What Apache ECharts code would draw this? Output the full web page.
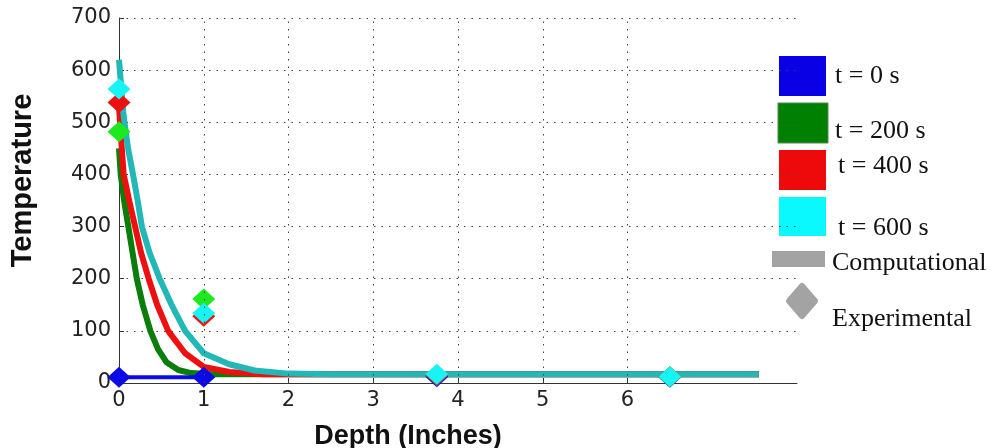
<!DOCTYPE html>
<html>
<head>
<meta charset="utf-8">
<script src="https://cdn.jsdelivr.net/npm/echarts@6/dist/echarts.min.js"></script>
<style>
  html, body { margin: 0; padding: 0; background: #fff; }
  #main { width: 994px; height: 448px; }
</style>
</head>
<body>
<div id="main"></div>
<script>
// computational curves, [depth in, temperature]
var comp0 = [[0, 11], [1, 11]];
var comp200 = [[0, 450], [0.02, 400], [0.06, 350], [0.11, 300], [0.16, 250], [0.21, 200], [0.28, 150],
  [0.37, 100], [0.46, 65], [0.56, 40], [0.7, 25], [0.85, 19], [1.1, 17], [7.55, 17]];
var comp400 = [[0, 530], [0.02, 480], [0.055, 400], [0.12, 350], [0.19, 300], [0.26, 250], [0.35, 200],
  [0.45, 150], [0.58, 100], [0.78, 57], [1.0, 31], [1.3, 21], [1.7, 17], [7.55, 17]];
var comp600 = [[0, 620], [0.02, 580], [0.05, 520], [0.08, 480], [0.11, 447], [0.165, 400], [0.22, 350],
  [0.27, 300], [0.36, 250], [0.48, 200], [0.62, 150], [0.78, 100], [1.0, 57], [1.3, 36], [1.6, 24],
  [2.0, 18], [2.5, 17], [7.55, 17]];

// experimental points
var exp0 = [[0, 11], [1, 11], [3.75, 12], [6.5, 11]];
var exp200 = [[0, 482], [1, 161], [3.75, 15], [6.5, 12]];
var exp400 = [[0, 538], [1, 128], [3.75, 15], [6.5, 12]];
var exp600 = [[0, 564], [1, 134], [3.75, 17], [6.5, 12]];

var xTicks = [0, 1, 2, 3, 4, 5, 6];
var gridX = [1, 2, 3, 4, 5, 6];
var legendNames = ['t = 0 s', 't = 200 s', 't = 400 s', 't = 600 s', 'Computational', 'Experimental'];

var chart = echarts.init(document.getElementById('main'));

function curve(name, data, color, width) {
  return {
    name: name, type: 'line', data: data, showSymbol: false,
    lineStyle: { color: color, width: width, join: 'round' }, z: 2
  };
}
function points(name, data, color) {
  return {
    name: name, type: 'scatter', data: data, symbol: 'diamond', symbolSize: [23, 21],
    itemStyle: { color: color, opacity: 1 }, z: 4
  };
}

var dotted = { type: [1.5, 6], color: '#444', width: 1 };
var legFont = '26px "Liberation Serif"';

chart.setOption({
  animation: false,
  grid: { left: 119, right: 197, top: 18, bottom: 65, outerBoundsMode: 'none', containLabel: false },
  xAxis: {
    type: 'value', min: 0, max: 8, interval: 1,
    name: 'Depth (Inches)', nameLocation: 'middle', nameGap: 40,
    nameTextStyle: { fontFamily: 'Arial', fontWeight: 'bold', fontSize: 27, color: '#111', padding: [0, 100, 0, 0] },
    axisLine: { lineStyle: { color: '#333', width: 1 } },
    axisTick: { inside: true, length: 5, customValues: xTicks, lineStyle: { color: '#333' } },
    axisLabel: { customValues: xTicks, fontFamily: 'DejaVu Sans', fontSize: 21, color: '#222', margin: 7 },
    splitLine: { show: false }
  },
  yAxis: {
    type: 'value', min: 0, max: 700, interval: 100,
    name: 'Temperature', nameLocation: 'middle', nameGap: 82,
    nameTextStyle: { fontFamily: 'Arial', fontWeight: 'bold', fontSize: 29, color: '#111', padding: [0, 0, 0, 40] },
    axisLine: { show: true, lineStyle: { color: '#333', width: 1 } },
    axisTick: { show: true, inside: true, length: 5, lineStyle: { color: '#333' } },
    axisLabel: { fontFamily: 'DejaVu Sans', fontSize: 21, color: '#222', margin: 8 },
    splitLine: { show: true, lineStyle: dotted }
  },
  series: [
    {
      type: 'line', data: [[0, 0]], showSymbol: false, lineStyle: { opacity: 0 }, z: 1, silent: true,
      markLine: {
        silent: true, symbol: 'none', label: { show: false },
        lineStyle: dotted,
        data: gridX.map(function (v) { return { xAxis: v }; })
      }
    },
    curve('c200', comp200, '#0a7d0a', 6),
    curve('c400', comp400, '#ee1010', 6),
    curve('c600', comp600, '#22b8b8', 6),
    curve('c0', comp0, '#0a0ae6', 4),
    points('e0', exp0, '#0a0ae6'),
    points('e200', exp200, '#1ee81e'),
    points('e400', exp400, '#ee1010'),
    points('e600', exp600, '#18f4f4')
  ],
  graphic: [
    { type: 'rect', shape: { x: 779, y: 56, width: 47, height: 40 }, style: { fill: '#0a00e6' } },
    { type: 'rect', shape: { x: 778, y: 103, width: 50, height: 40 }, style: { fill: '#008000', stroke: '#5a845a', lineWidth: 1 } },
    { type: 'rect', shape: { x: 779, y: 150, width: 47, height: 40 }, style: { fill: '#ee0a0a' } },
    { type: 'rect', shape: { x: 779, y: 197, width: 47, height: 39 }, style: { fill: '#0af8ff' } },
    { type: 'rect', shape: { x: 772, y: 251, width: 53, height: 16 }, style: { fill: '#a3a3a3' } },
    { type: 'polygon', shape: { points: [[802, 286], [815, 301], [802, 316], [789, 301]] },
      style: { fill: '#a3a3a3', stroke: '#a3a3a3', lineWidth: 6, lineJoin: 'round' } },
    { type: 'text', x: 835, y: 76, style: { text: legendNames[0], font: legFont, fill: '#111', verticalAlign: 'middle' } },
    { type: 'text', x: 835, y: 131, style: { text: legendNames[1], font: legFont, fill: '#111', verticalAlign: 'middle' } },
    { type: 'text', x: 838, y: 166, style: { text: legendNames[2], font: legFont, fill: '#111', verticalAlign: 'middle' } },
    { type: 'text', x: 838, y: 228, style: { text: legendNames[3], font: legFont, fill: '#111', verticalAlign: 'middle' } },
    { type: 'text', x: 832, y: 263, style: { text: legendNames[4], font: legFont, fill: '#111', verticalAlign: 'middle' } },
    { type: 'text', x: 832, y: 319, style: { text: legendNames[5], font: legFont, fill: '#111', verticalAlign: 'middle' } }
  ]
});
</script>
</body>
</html>
